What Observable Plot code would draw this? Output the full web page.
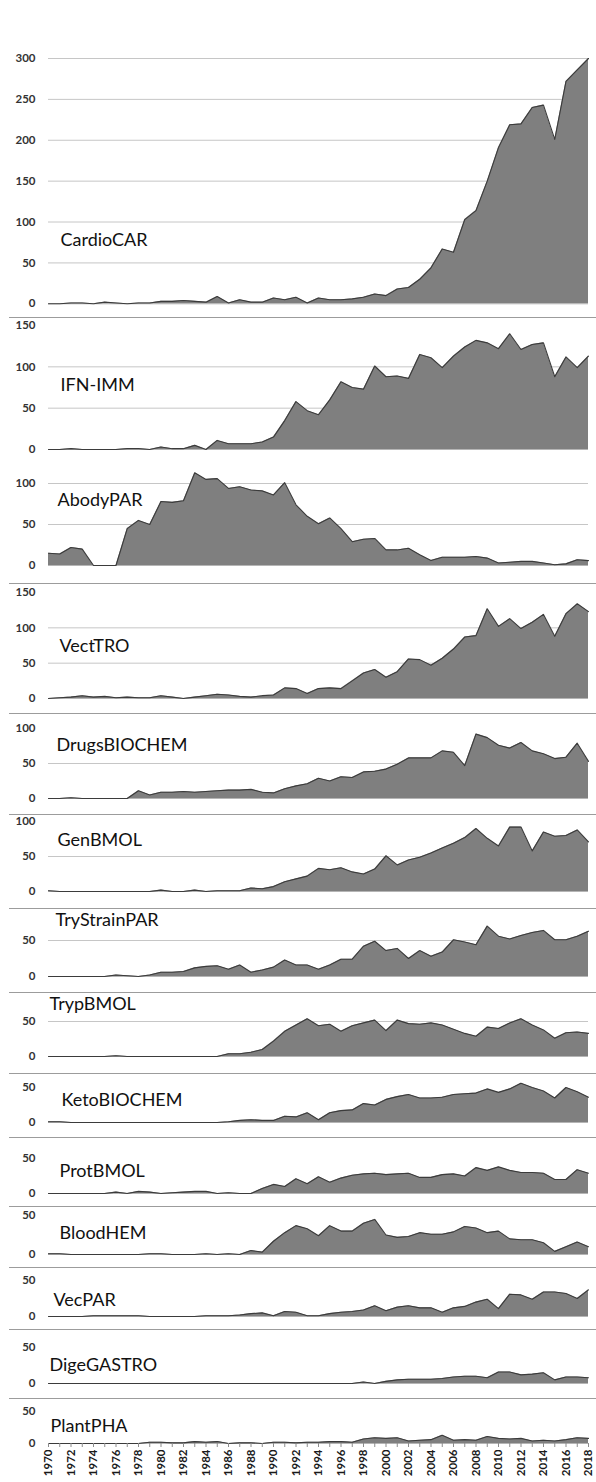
<!DOCTYPE html>
<html><head><meta charset="utf-8">
<script src="https://cdn.jsdelivr.net/npm/d3@7"></script>
<script src="https://cdn.jsdelivr.net/npm/@observablehq/plot@0.6"></script>
<style>
body{margin:0;background:#fff;}
#chart{position:relative;width:596px;height:1482px;overflow:hidden;font-family:Lato,"Open Sans",sans-serif;}
#chart svg{position:absolute;left:0;overflow:visible;}
.sep{position:absolute;left:9px;width:587px;height:0;border-top:1.3px solid #9c9c9c;}
</style></head><body><div id="chart"></div><script>
const years = [1970,1971,1972,1973,1974,1975,1976,1977,1978,1979,1980,1981,1982,1983,1984,1985,1986,1987,1988,1989,1990,1991,1992,1993,1994,1995,1996,1997,1998,1999,2000,2001,2002,2003,2004,2005,2006,2007,2008,2009,2010,2011,2012,2013,2014,2015,2016,2017,2018];
const yearLabels = [1970,1972,1974,1976,1978,1980,1982,1984,1986,1988,1990,1992,1994,1996,1998,2000,2002,2004,2006,2008,2010,2012,2014,2016,2018];
const names = ["CardioCAR","IFN-IMM","AbodyPAR","VectTRO","DrugsBIOCHEM","GenBMOL","TryStrainPAR","TrypBMOL","KetoBIOCHEM","ProtBMOL","BloodHEM","VecPAR","DigeGASTRO","PlantPHA"];

const cardioCAR = [0,0,1,1,0,2,1,0,1,1, 3,3,4,3,2,9,1,5,2,2, 7,5,8,1,7,5,5,6,8,12, 10,18,20,30,44,67,63,103,114,150, 191,219,220,240,243,201,272,286,300];
const ifnIMM = [0,0,1,0,0,0,0,1,1,0, 3,1,1,5,0,11,7,7,7,9, 15,35,58,47,42,60,82,75,73,101, 88,89,86,115,111,99,113,124,132,129, 122,140,121,127,129,88,112,99,113];
const abodyPAR = [15,14,22,20,0,0,0,45,55,50, 78,77,79,113,105,106,94,96,92,91, 86,101,74,60,51,58,45,29,32,33, 19,19,21,13,6,10,10,10,11,9, 3,4,5,5,3,1,2,7,6];
const vectTRO = [0,1,2,4,2,3,1,2,1,1, 4,2,0,2,4,6,5,3,2,4, 5,15,14,7,14,15,14,25,36,41, 30,38,56,55,47,57,70,87,89,127, 102,113,99,108,119,88,120,134,123];
const drugsBIOCHEM = [0,0,1,0,0,0,0,0,11,5, 9,9,10,9,10,11,12,12,13,9, 8,14,18,21,29,25,31,30,38,39, 42,49,58,58,58,68,66,47,92,87, 76,72,80,68,64,57,59,79,53];
const genBMOL = [1,0,0,0,0,0,0,0,0,0, 2,0,0,2,0,1,1,1,5,4, 7,14,18,22,33,31,34,28,25,32, 51,38,45,49,55,62,69,77,90,76, 65,92,92,58,85,79,80,88,71];
const tryStrainPAR = [0,0,0,0,0,0,2,1,0,2, 6,6,7,12,14,15,10,16,6,9, 13,23,16,16,10,16,24,24,42,49, 36,39,25,36,28,34,51,48,44,70, 56,52,57,61,64,51,51,56,63];
const trypBMOL = [0,0,0,0,0,0,1,0,0,0, 0,0,0,0,0,0,4,4,6,10, 22,36,45,54,44,46,36,44,48,52, 37,52,47,46,48,45,39,33,29,42, 40,48,54,45,38,26,34,35,33];
const ketoBIOCHEM = [1,1,0,0,0,0,0,0,0,0, 0,0,0,0,0,0,1,3,4,3, 3,9,8,14,4,14,17,18,27,25, 33,37,40,35,35,36,40,41,42,48, 43,48,56,50,45,35,50,44,36];
const protBMOL = [0,0,0,0,0,0,2,0,3,2, 0,1,2,3,3,0,1,0,0,7, 13,10,21,14,24,16,22,26,28,29, 27,28,29,23,23,27,28,25,37,33, 38,33,30,30,29,20,20,34,29];
const bloodHEM = [1,1,0,0,0,0,0,0,0,1, 1,0,0,0,1,0,1,0,5,3, 17,28,37,33,24,37,30,30,40,45, 25,22,23,28,26,26,29,36,34,28, 30,20,19,19,15,4,10,16,10];
const vecPAR = [0,0,0,0,1,1,1,1,1,0, 0,0,0,0,1,1,1,2,4,5, 1,7,6,1,1,4,6,7,9,15, 8,13,15,12,12,6,12,14,20,24, 11,31,30,24,34,34,32,25,37];
const digeGASTRO = [0,0,0,0,0,0,0,0,0,0, 0,0,0,0,0,0,0,0,0,0, 0,0,0,0,0,0,0,0,2,0, 3,5,6,6,6,7,9,10,10,8, 16,16,12,13,15,5,9,9,8];
const plantPHA = [0,0,0,0,0,0,0,0,0,2, 2,1,1,3,2,3,0,1,1,0, 2,2,1,2,2,3,3,2,7,9, 8,9,4,5,6,13,5,6,5,11, 8,7,8,4,5,4,6,9,8];

const series = [cardioCAR, ifnIMM, abodyPAR, vectTRO, drugsBIOCHEM, genBMOL, tryStrainPAR, trypBMOL, ketoBIOCHEM, protBMOL, bloodHEM, vecPAR, digeGASTRO, plantPHA];
const yMax = [300,150,100,150,100,100,50,50,50,50,50,50,50,50];
const tickLabels = [[0,50,100,150,200,250,300],[0,50,100,150],[0,50,100],[0,50,100,150],[0,50,100],[0,50,100],[0,50],[0,50],[0,50],[0,50],[0,50],[0,50],[0,50],[0,50]];
const gridValues = [[50,100,150,200,250,300],[50,100],[50,100],[50,100],[50],[50],[50],[50],[],[],[],[],[],[]];

// layout (pixels): position of top tick, of zero, label centre, label left, separator below
const layout = [
  {top:57.7, zero:303, labelY:239, labelX:60, sep:317},
  {top:325, zero:449, labelY:385, labelX:60, sep:null},
  {top:483, zero:565, labelY:500, labelX:57, sep:583},
  {top:592, zero:698, labelY:646, labelX:59, sep:713},
  {top:728, zero:798, labelY:745, labelX:56, sep:814},
  {top:821, zero:891, labelY:840, labelX:57, sep:908},
  {top:940, zero:976, labelY:920, labelX:55, sep:992},
  {top:1021, zero:1056, labelY:1004, labelX:49, sep:1073},
  {top:1087, zero:1122, labelY:1100, labelX:61, sep:1137},
  {top:1158, zero:1193, labelY:1171, labelX:59, sep:1206},
  {top:1215, zero:1254, labelY:1233, labelX:59, sep:1267},
  {top:1280, zero:1316, labelY:1300, labelX:53, sep:1329},
  {top:1347, zero:1383, labelY:1365, labelX:49, sep:1398},
  {top:1411, zero:1443, labelY:1426, labelX:50, sep:null}
];

const chart = document.getElementById("chart");
const W = 596, ML = 48, MR = 8;
const FONT = "Lato, 'Open Sans', sans-serif";

names.forEach((name, i) => {
  const L = layout[i];
  const last = i === names.length - 1;
  const mt = 30, mb = last ? 45 : 10;
  const H = (L.zero - L.top) + mt + mb;
  const data = years.map((y, j) => ({year: y, value: series[i][j]}));
  const marks = [
    Plot.ruleY(gridValues[i], {stroke: "#c6c6c6", strokeWidth: 1}),
    Plot.ruleY([0], {stroke: "#b5b5b5", strokeWidth: 1}),
    Plot.areaY(data, {x: "year", y: "value", fill: "#7f7f7f"}),
    Plot.lineY(data, {x: "year", y: "value", stroke: "#3b3b3b", strokeWidth: 1.1}),
    Plot.axisY(tickLabels[i], {tickSize: 0, tickPadding: 13, fontSize: 11.5, fontWeight: "bold", color: "#333", label: null}),
    Plot.text([name], {frameAnchor: "top-left", dx: L.labelX - ML, dy: L.labelY - L.top, textAnchor: "start", lineAnchor: "middle", fontSize: 18, fill: "#111"})
  ];
  if (last) {
    marks.push(Plot.ruleX(years, {x: d => d, y1: () => 0, y2: () => 0, insetBottom: -4, stroke: "#8c8c8c"}));
    marks.push(Plot.text(yearLabels, {x: d => d, y: () => 0, dy: 6, rotate: -90, textAnchor: "end", lineAnchor: "middle", fontSize: 11.5, fontWeight: "bold", fill: "#1a1a1a", text: d => String(d)}));
  }
  const svg = Plot.plot({
    width: W, height: H,
    marginLeft: ML, marginRight: MR, marginTop: mt, marginBottom: mb,
    style: {fontFamily: FONT, background: "transparent", overflow: "visible"},
    x: {domain: [1970, 2018], axis: null},
    y: {domain: [0, yMax[i]], axis: null},
    marks
  });
  svg.style.top = (L.top - mt) + "px";
  chart.appendChild(svg);
  if (L.sep !== null) {
    const d = document.createElement("div");
    d.className = "sep";
    d.style.top = L.sep + "px";
    chart.appendChild(d);
  }
});
</script></body></html>
